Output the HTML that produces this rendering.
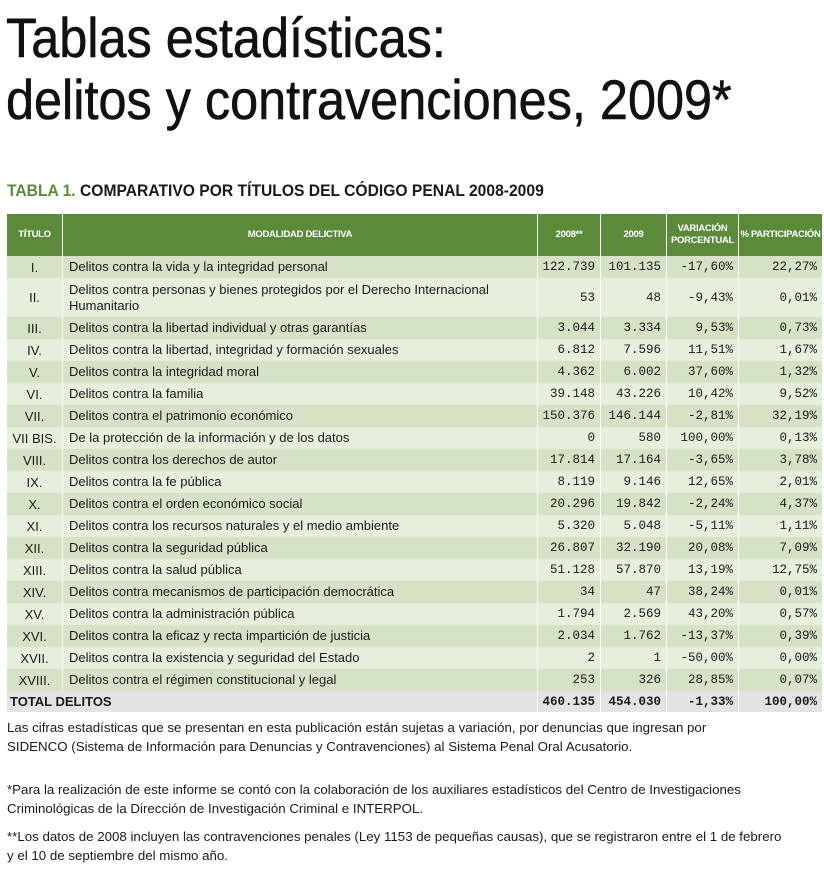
<!DOCTYPE html>
<html><head><meta charset="utf-8">
<style>
body{margin:0;width:824px;height:871px;background:#fff;position:relative;overflow:hidden;font-family:"Liberation Sans",sans-serif;color:#1a1a1a}
.title{position:absolute;left:6px;font-size:56px;line-height:60px;transform-origin:0 0;transform:scaleX(0.9);white-space:nowrap;color:#111;-webkit-text-stroke:0.6px #111}
#sub{position:absolute;left:7px;top:181px;font-size:17px;font-weight:bold;white-space:nowrap;transform-origin:0 0;transform:scaleX(0.92)}
#sub span{color:#5a8a3a}
#tbl{position:absolute;left:7px;top:214px;width:816px}
.row{position:absolute;left:0;width:816px}
.cell{position:absolute;top:0;bottom:0;border-right:1px solid #fff;box-sizing:border-box;display:flex;align-items:center;font-size:13px;overflow:hidden}
.num{font-family:"Liberation Mono",monospace;font-size:12.5px;justify-content:flex-end;padding-right:5px}
.hdr .cell{color:#fff;font-weight:bold;font-size:9.5px;justify-content:center;text-align:center;line-height:12px;white-space:nowrap;letter-spacing:-0.3px}
.foot{position:absolute;left:7px;font-size:13.3px;line-height:19px;width:816px;color:#1a1a1a}
</style></head><body>
<div class="title" style="top:8px">Tablas estadísticas:</div>
<div class="title" style="top:70px">delitos y contravenciones, 2009*</div>
<div id="sub"><span>TABLA 1.</span> COMPARATIVO POR TÍTULOS DEL CÓDIGO PENAL 2008-2009</div>
<div id="tbl"></div>
<div class="foot" style="top:718px">Las cifras estadísticas que se presentan en esta publicación están sujetas a variación, por denuncias que ingresan por<br>SIDENCO (Sistema de Información para Denuncias y Contravenciones) al Sistema Penal Oral Acusatorio.</div>
<div class="foot" style="top:780px">*Para la realización de este informe se contó con la colaboración de los auxiliares estadísticos del Centro de Investigaciones Criminológicas de la Dirección de Investigación Criminal e INTERPOL.</div>
<div class="foot" style="top:827px;width:780px">**Los datos de 2008 incluyen las contravenciones penales (Ley 1153 de pequeñas causas), que se registraron entre el 1 de febrero y el 10 de septiembre del mismo año.</div>
<script>
const titles=["I.","II.","III.","IV.","V.","VI.","VII.","VII BIS.","VIII.","IX.","X.","XI.","XII.","XIII.","XIV.","XV.","XVI.","XVII.","XVIII."];
const crimes=["Delitos contra la vida y la integridad personal","Delitos contra personas y bienes protegidos por el Derecho Internacional Humanitario","Delitos contra la libertad individual y otras garantías","Delitos contra la libertad, integridad y formación sexuales","Delitos contra la integridad moral","Delitos contra la familia","Delitos contra el patrimonio económico","De la protección de la información y de los datos","Delitos contra los derechos de autor","Delitos contra la fe pública","Delitos contra el orden económico social","Delitos contra los recursos naturales y el medio ambiente","Delitos contra la seguridad pública","Delitos contra la salud pública","Delitos contra mecanismos de participación democrática","Delitos contra la administración pública","Delitos contra la eficaz y recta impartición de justicia","Delitos contra la existencia y seguridad del Estado","Delitos contra el régimen constitucional y legal"];
const v2008=["122.739","53","3.044","6.812","4.362","39.148","150.376","0","17.814","8.119","20.296","5.320","26.807","51.128","34","1.794","2.034","2","253"];
const v2009=["101.135","48","3.334","7.596","6.002","43.226","146.144","580","17.164","9.146","19.842","5.048","32.190","57.870","47","2.569","1.762","1","326"];
const variation=["-17,60%","-9,43%","9,53%","11,51%","37,60%","10,42%","-2,81%","100,00%","-3,65%","12,65%","-2,24%","-5,11%","20,08%","13,19%","38,24%","43,20%","-13,37%","-50,00%","28,85%"];
const share=["22,27%","0,01%","0,73%","1,67%","1,32%","9,52%","32,19%","0,13%","3,78%","2,01%","4,37%","1,11%","7,09%","12,75%","0,01%","0,57%","0,39%","0,00%","0,07%"];
const totals=["TOTAL DELITOS","460.135","454.030","-1,33%","100,00%"];
const headers=["TÍTULO","MODALIDAD DELICTIVA","2008**","2009","VARIACIÓN<br>PORCENTUAL","% PARTICIPACIÓN"];
const colX=[0,56,531,594,660,732,816];
const tbl=document.getElementById('tbl');
function mkRow(top,h,bg,cls){const r=document.createElement('div');r.className='row '+(cls||'');r.style.top=top+'px';r.style.height=h+'px';r.style.background=bg;tbl.appendChild(r);return r;}
function mkCell(r,i,html,extra){const c=document.createElement('div');c.className='cell '+(extra||'');c.style.left=colX[i]+'px';c.style.width=(colX[i+1]-colX[i])+'px';c.innerHTML=html;r.appendChild(c);return c;}
const hr=mkRow(0,42,'#5b8a3b','hdr');


headers.forEach((h,i)=>{const c=mkCell(hr,i,h);

});
let y=42;
titles.forEach((t,k)=>{const h=k===1?39:22;const bg=k%2===0?'#d5e2c6':'#e6eedc';
const r=mkRow(y,h,bg);


const c0=mkCell(r,0,t);c0.style.justifyContent='center';c0.style.fontSize='13px';
const c1=mkCell(r,1,crimes[k]);c1.style.padding='0 20px 0 6px';c1.style.lineHeight='16px';
mkCell(r,2,v2008[k],'num');mkCell(r,3,v2009[k],'num');mkCell(r,4,variation[k],'num');mkCell(r,5,share[k],'num');
y+=h;});
const tr=mkRow(y,21,'#e3e3e3');


const tc=mkCell(tr,0,totals[0]);tc.style.width='531px';tc.style.fontWeight='bold';tc.style.paddingLeft='3px';tc.style.fontSize='13px';
for(let i=1;i<5;i++){const c=mkCell(tr,i+1,totals[i],'num');c.style.fontWeight='bold';}
</script>
</body></html>
